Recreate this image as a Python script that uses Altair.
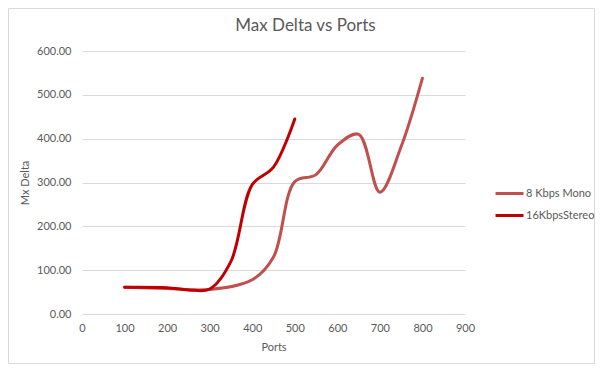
import altair as alt
import pandas as pd

mono_ports = [100, 200, 300, 400, 450, 500, 550, 600, 650, 700, 750, 800]
mono_delta = [61, 58, 56, 78, 130, 302, 318, 385, 410, 278, 382, 538]
stereo_ports = [100, 200, 250, 300, 350, 400, 450, 500]
stereo_delta = [61, 60, 55, 57, 120, 295, 335, 445]
series_names = ["8 Kbps Mono", "16KbpsStereo"]
series_colors = ["#C0504D", "#C00000"]

rows = []
for p, v in zip(mono_ports, mono_delta):
    rows.append({"Ports": p, "Delta": v, "Series": series_names[0]})
for p, v in zip(stereo_ports, stereo_delta):
    rows.append({"Ports": p, "Delta": v, "Series": series_names[1]})
df = pd.DataFrame(rows)

FONT = "Lato"
GREY = "#595959"
W, H = 383, 263
PL, PT, PR, PB = 74, 43, 130, 50

border = alt.Chart(pd.DataFrame({"a": [0]})).mark_rect(
    fillOpacity=0, stroke="#D9D9D9", strokeWidth=1
).encode(
    x=alt.value(-PL + 0.5), x2=alt.value(W + PR - 0.5),
    y=alt.value(-PT + 0.5), y2=alt.value(H + PB - 0.5),
)

lines = alt.Chart(df).mark_line(
    interpolate="catmull-rom", strokeWidth=3, strokeCap="round"
).encode(
    x=alt.X("Ports:Q", scale=alt.Scale(domain=[0, 900], nice=False),
            axis=alt.Axis(values=list(range(0, 901, 100)), title="Ports",
                          grid=False, domain=False, ticks=False,
                          labelFlush=False,
                          labelPadding=8, titlePadding=8)),
    y=alt.Y("Delta:Q", scale=alt.Scale(domain=[0, 600], nice=False),
            axis=alt.Axis(values=list(range(0, 601, 100)), format=".2f",
                          title="Mx Delta", grid=True, domain=False,
                          ticks=False, labelPadding=11, titlePadding=6)),
    color=alt.Color("Series:N",
                    scale=alt.Scale(domain=series_names, range=series_colors),
                    legend=alt.Legend(title=None, orient="none",
                                      legendX=412, legendY=127,
                                      symbolType="stroke", symbolSize=784,
                                      symbolStrokeWidth=3, labelOffset=1,
                                      rowPadding=-6)),
    order=alt.Order("Series:N", sort="descending"),
)

chart = alt.layer(border, lines).properties(
    width=W, height=H,
    autosize=alt.AutoSizeParams(type="none"),
    padding={"left": PL, "top": PT, "right": PR, "bottom": PB},
    title=alt.TitleParams("Max Delta vs Ports", fontSize=17, font=FONT,
                          fontWeight="normal", color=GREY, dx=32, offset=-27,
                          frame="group"),
).configure_view(stroke=None).configure_axis(
    labelFont=FONT, titleFont=FONT, labelFontSize=11, titleFontSize=11,
    labelColor=GREY, titleColor=GREY, titleFontWeight="normal",
    gridColor="#D9D9D9", gridWidth=1,
).configure_legend(
    labelFont=FONT, labelFontSize=11, labelColor=GREY,
)

chart.save("out.html", embed_options={"renderer": "svg", "actions": False})
